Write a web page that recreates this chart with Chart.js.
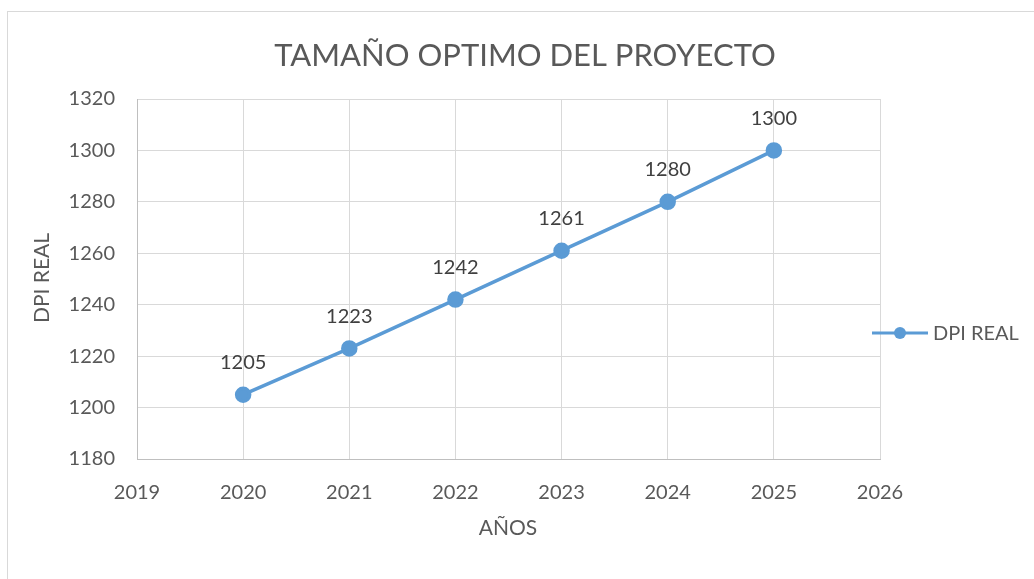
<!DOCTYPE html>
<html>
<head>
<meta charset="utf-8">
<script src="https://cdn.jsdelivr.net/npm/chart.js@4"></script>
<style>
  html, body { margin: 0; padding: 0; background: #fff; }
  #wrap { position: relative; width: 1034px; height: 579px; overflow: hidden; }
  #frame { position: absolute; left: 7px; top: 11px; width: 1100px; height: 700px; border: 1px solid #d9d9d9; pointer-events: none; }
</style>
</head>
<body>
<div id="wrap">
  <canvas id="lineChart" width="1034" height="579"></canvas>
  <div id="frame"></div>
</div>
<script>
  const years = [2020, 2021, 2022, 2023, 2024, 2025];
  const dpiReal = [1205, 1223, 1242, 1261, 1280, 1300];
  const seriesName = "DPI REAL";
  const chartTitle = "TAMAÑO OPTIMO DEL PROYECTO";
  const xTitle = "AÑOS";
  const yTitle = "DPI REAL";

  const fontFamily = "Lato, 'Open Sans', sans-serif";
  const textColor = "#595959";
  const lineColor = "#5b9bd5";

  // titles, value labels and the legend, drawn on top of the chart
  const extras = {
    id: "extras",
    afterDatasetsDraw(chart) {
      const ctx = chart.ctx;
      const meta = chart.getDatasetMeta(0);
      ctx.save();
      ctx.fillStyle = "#404040";
      ctx.font = "20px " + fontFamily;
      ctx.textAlign = "center";
      ctx.textBaseline = "middle";
      meta.data.forEach((pt, i) => {
        ctx.fillText(String(dpiReal[i]), pt.x, pt.y - 32);
      });

      ctx.fillStyle = textColor;
      ctx.font = "31px " + fontFamily;
      ctx.fillText(chartTitle, 525, 56);

      ctx.font = "21px " + fontFamily;
      ctx.fillText(xTitle, 508, 528);
      ctx.save();
      ctx.translate(42, 278);
      ctx.rotate(-Math.PI / 2);
      ctx.fillText(yTitle, 0, 0);
      ctx.restore();

      // legend
      const ds = chart.data.datasets[0];
      ctx.strokeStyle = ds.borderColor;
      ctx.lineWidth = 3;
      ctx.beginPath();
      ctx.moveTo(872, 333);
      ctx.lineTo(928, 333);
      ctx.stroke();
      ctx.fillStyle = ds.backgroundColor;
      ctx.beginPath();
      ctx.arc(900, 333, 6, 0, Math.PI * 2);
      ctx.fill();
      ctx.fillStyle = textColor;
      ctx.font = "20px " + fontFamily;
      ctx.textAlign = "left";
      ctx.fillText(ds.label, 933, 334);
      ctx.restore();
    },
  };

  const lineCtx = document.getElementById("lineChart").getContext("2d");
  const lineChart = new Chart(lineCtx, {
    type: "line",
    data: {
      datasets: [
        {
          label: seriesName,
          data: years.map((y, i) => ({ x: y, y: dpiReal[i] })),
          borderColor: lineColor,
          backgroundColor: lineColor,
          borderWidth: 3.5,
          pointRadius: 6.5,
          pointHoverRadius: 6.5,
          tension: 0,
        },
      ],
    },
    options: {
      responsive: false,
      animation: false,
      events: [],
      layout: { padding: { left: 0, top: 99, right: 154, bottom: 0 } },
      plugins: {
        legend: { display: false },
        title: { display: false },
        tooltip: { enabled: false },
      },
      scales: {
        x: {
          type: "linear",
          min: 2019,
          max: 2026,
          afterFit(scale) { scale.height = 120; },
          grid: { color: "#d9d9d9", drawTicks: false },
          border: { color: "#bfbfbf" },
          ticks: {
            stepSize: 1,
            padding: 22,
            color: textColor,
            font: { family: fontFamily, size: 20 },
            callback: (v) => String(v),
          },
        },
        y: {
          min: 1180,
          max: 1320,
          afterFit(scale) { scale.width = 137; },
          grid: { color: "#d9d9d9", drawTicks: false },
          border: { color: "#bfbfbf" },
          ticks: {
            stepSize: 20,
            padding: 22,
            color: textColor,
            font: { family: fontFamily, size: 20 },
            callback: (v) => String(v),
          },
        },
      },
    },
    plugins: [extras],
  });
</script>
</body>
</html>
